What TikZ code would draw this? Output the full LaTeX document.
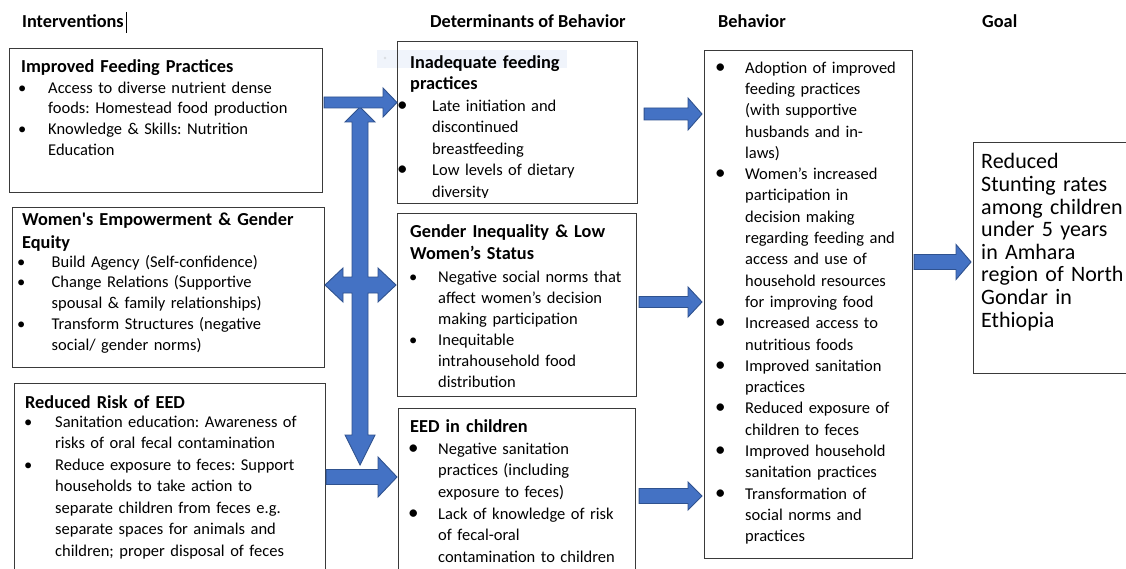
\documentclass[tikz,border=0pt]{standalone}
\usepackage{fontspec}
\setmainfont{Carlito}
\usetikzlibrary{calc}

\definecolor{arrowfill}{HTML}{4472C4}
\definecolor{arrowline}{HTML}{2F528F}
\definecolor{boxline}{HTML}{3A3A3A}
\definecolor{ghost}{HTML}{F0F4FB}

% bullet item with hanging indent: small and large bullet variants
\newcommand\bitem[2]{\noindent\hangindent=#1\hangafter=1\makebox[#1][l]{•}\rule{0pt}{15pt}#2\par}
\newcommand\Bitem[2]{\noindent\hangindent=#1\hangafter=1\makebox[#1][l]{\fontsize{21}{21}\selectfont•}\rule{0pt}{15pt}#2\par}

% right-pointing block arrow between two boxes at height y
% #1 from, #2 to, #3 y, #4 start gap, #5 tip gap, #6 half shaft, #7 half head, #8 head length
\newcommand\blockarrow[8]{%
  \filldraw[blockarrow] let \p1=(#1.east), \p2=(#2.west), \p3=(0,#3) in
   (\x1+#4pt,\y3+#6pt) -- (\x2-#5pt-#8pt,\y3+#6pt) -- (\x2-#5pt-#8pt,\y3+#7pt)
   -- (\x2-#5pt,\y3) -- (\x2-#5pt-#8pt,\y3-#7pt) -- (\x2-#5pt-#8pt,\y3-#6pt)
   -- (\x1+#4pt,\y3-#6pt) -- cycle;}

\tikzset{
  box/.style={draw=boxline, line width=1.1pt, anchor=north west, inner sep=0pt},
  list/.style={inner sep=0pt, anchor=north west, text width=300pt, align=left,
               font=\fontsize{16.5}{#1}\selectfont\frenchspacing},
  list/.default=21.3,
  title/.style={inner sep=0pt, anchor=north west, text width=300pt, align=left,
               font=\fontsize{18.3}{#1}\selectfont\bfseries},
  title/.default=21.5,
  head/.style={inner sep=0pt, anchor=base west, font=\fontsize{18.3}{20}\selectfont\bfseries},
  goaltext/.style={inner sep=0pt, anchor=north west, text width=200pt, align=left,
               font=\fontsize{22}{22.6}\selectfont},
  blockarrow/.style={fill=arrowfill, draw=arrowline, line width=0.9pt, line join=miter},
}

\begin{document}
\begin{tikzpicture}[x=1pt,y=-1pt]
\path[use as bounding box, fill=white] (0,0) rectangle (1126,569);

% column headings
\node[head] (hint) at (22,28) {Interventions};
\draw[line width=0.8pt] (126,12) -- (126,33);
\node[head] (hdet) at (430,28) {Determinants of Behavior};
\node[head] (hbeh) at (718,28) {Behavior};
\node[head] (hgoal) at (982,28) {Goal};

% faint selection highlight
\fill[ghost] (377,50) rectangle (567,68);
\fill[ghost!80!gray] (385,58) circle (1.3);

% boxes
\node[box, minimum width=313pt, minimum height=144pt] (b1) at (9,48) {};
\node[box, minimum width=312pt, minimum height=160pt] (b2) at (12,207) {};
\node[box, minimum width=311pt, minimum height=200pt] (b3) at (14,383) {};
\node[box, minimum width=240pt, minimum height=162pt] (b4) at (397,41) {};
\node[box, minimum width=239pt, minimum height=183pt] (b5) at (397,213) {};
\node[box, minimum width=237pt, minimum height=175pt] (b6) at (398,408) {};
\node[box, minimum width=208pt, minimum height=508pt] (b7) at (704,50) {};
\node[box, minimum width=165pt, minimum height=231pt] (b8) at (973,142) {};

% interventions
\node[title] (t1) at (21,72-15) {\rule{0pt}{15pt}Improved Feeding Practices};
\node[list=20.8] (l1) at (18,93-15) {%
  \bitem{30pt}{Access to diverse nutrient dense\newline foods: Homestead food production}%
  \bitem{30pt}{Knowledge \& Skills: Nutrition\newline Education}};

\begin{scope}
\clip (12,207) rectangle (324,352);
\node[title=23] (t2) at (22,225-15) {\rule{0pt}{15pt}Women\textquotesingle s Empowerment \& Gender\\Equity};
\node[list=20.7] (l2) at (17,267-15) {%
  \bitem{34.5pt}{Build Agency (Self-confidence)}%
  \bitem{34.5pt}{Change Relations (Supportive\newline spousal \& family relationships)}%
  \bitem{34.5pt}{Transform Structures (negative\newline social/ gender norms)}};
\end{scope}

\node[title] (t3) at (25,408-15) {\rule{0pt}{15pt}Reduced Risk of EED};
\node[list=21.5] (l3) at (24,427-15) {%
  \bitem{31pt}{Sanitation education: Awareness of\newline risks of oral fecal contamination}%
  \bitem{31pt}{Reduce exposure to feces: Support\newline households to take action to\newline separate children from feces e.g.\newline separate spaces for animals and\newline children; proper disposal of feces}};

% determinants of behavior
\begin{scope}
\clip (397,41) rectangle (637,198);
\node[title=21.5] (t4) at (410,68-15) {\rule{0pt}{15pt}Inadequate feeding\\practices};
\node[list=21.6] (l4) at (397,111-15) {%
  \Bitem{35pt}{Late initiation and\newline discontinued\newline breastfeeding}%
  \Bitem{35pt}{Low levels of dietary\newline diversity}};
\end{scope}

\node[title=22] (t5) at (410,237-15) {\rule{0pt}{15pt}Gender Inequality \& Low\\Women’s Status};
\node[list=21.1] (l5) at (409,282-15) {%
  \bitem{29pt}{Negative social norms that\newline affect women’s decision\newline making participation}%
  \bitem{29pt}{Inequitable\newline intrahousehold food\newline distribution}};

\node[title] (t6) at (410,432-15) {\rule{0pt}{15pt}EED in children};
\node[list=21.6] (l6) at (408,454-15) {%
  \Bitem{30pt}{Negative sanitation\newline practices (including\newline exposure to feces)}%
  \Bitem{30pt}{Lack of knowledge of risk\newline of fecal-oral\newline contamination to children}};

% behavior
\node[list=21.3] (l7) at (715,73-15) {%
  \Bitem{30pt}{Adoption of improved\newline feeding practices\newline (with supportive\newline husbands and in-\newline laws)}%
  \Bitem{30pt}{Women’s increased\newline participation in\newline decision making\newline regarding feeding and\newline access and use of\newline household resources\newline for improving food}%
  \Bitem{30pt}{Increased access to\newline nutritious foods}%
  \Bitem{30pt}{Improved sanitation\newline practices}%
  \Bitem{30pt}{Reduced exposure of\newline children to feces}%
  \Bitem{30pt}{Improved household\newline sanitation practices}%
  \Bitem{30pt}{Transformation of\newline social norms and\newline practices}};

% goal
\node[goaltext] (t8) at (981,168.5-15) {\rule{0pt}{15pt}Reduced\\Stunting rates\\among children\\under 5 years\\in Amhara\\region of North\\Gondar in\\Ethiopia};

% cross-shaped linking arrow between the intervention boxes
\filldraw[blockarrow] (360,107) -- (375,122) -- (368,122) -- (368,277) -- (378,277)
  -- (378,268) -- (396,285) -- (378,302) -- (378,293) -- (368,293) -- (368,435)
  -- (375,435) -- (360,465) -- (345,435) -- (352,435) -- (352,293) -- (343,293)
  -- (343,302) -- (325,285) -- (343,268) -- (343,277) -- (352,277) -- (352,122)
  -- (345,122) -- cycle;

% arrows between columns
\blockarrow{b1}{b4}{102.5}{1}{0}{5.5}{14.5}{14}
\blockarrow{b3}{b6}{477}{0}{1}{7.5}{20}{19}
\blockarrow{b4}{b7}{114}{6}{2}{6}{16}{14}
\blockarrow{b5}{b7}{302}{2}{2}{5.5}{15}{14}
\blockarrow{b6}{b7}{496}{3}{2}{7.5}{14}{14}
\blockarrow{b7}{b8}{262}{1}{2}{7.5}{17.5}{15}
\end{tikzpicture}
\end{document}
